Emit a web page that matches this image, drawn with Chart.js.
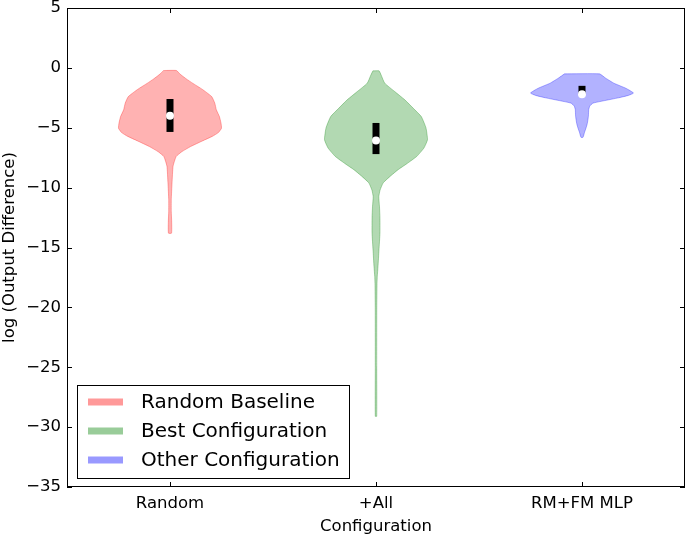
<!DOCTYPE html>
<html>
<head>
<meta charset="utf-8">
<script src="https://cdn.jsdelivr.net/npm/chart.js@4"></script>
<style>
  html, body { margin: 0; padding: 0; background: #fff; }
  #wrap { width: 689px; height: 537px; }
</style>
</head>
<body>
<div id="wrap"><canvas id="violinChart"></canvas></div>
<script>
// categories along the x axis
const categories = ['Random', '+All', 'RM+FM MLP'];
const legendLabels = ['Random Baseline', 'Best Configuration', 'Other Configuration'];
const yTicks = [5, 0, -5, -10, -15, -20, -25, -30, -35];

// violin outlines: y levels (log diff) and relative density (1 = widest)
const randomLevels = [-0.22, -0.5, -0.9, -1.28, -1.8, -2.4, -2.95, -3.5, -4.07, -4.6, -5.04, -5.4, -5.7, -6.1, -6.57, -7.0, -7.4, -8.2, -9.6, -11, -12, -12.9, -13.8];
const randomDensity = [0.125, 0.19, 0.31, 0.44, 0.63, 0.81, 0.87, 0.9, 0.96, 0.99, 1, 0.94, 0.83, 0.63, 0.4, 0.23, 0.12, 0.06, 0.04, 0.025, 0.025, 0.033, 0.03];

const allLevels = [-0.25, -0.6, -1.28, -2.0, -2.67, -3.4, -4.07, -5.0, -6.0, -6.7, -7.4, -8.0, -8.5, -9.0, -9.6, -10.2, -10.75, -11.6, -12.5, -13.8, -15.2, -16.6, -17.4, -18, -20, -25, -29.1];
const allDensity = [0.06, 0.1, 0.17, 0.37, 0.56, 0.73, 0.88, 0.97, 1, 0.93, 0.79, 0.6, 0.43, 0.29, 0.14, 0.08, 0.055, 0.068, 0.077, 0.077, 0.058, 0.039, 0.025, 0.02, 0.015, 0.014, 0.014];

const mlpLevels = [-0.5, -0.86, -1.28, -1.7, -2.1, -2.3, -2.5, -2.75, -2.95, -3.2, -3.5, -4.0, -4.34, -4.7, -5.04, -5.4, -5.8];
const mlpDensity = [0.34, 0.46, 0.62, 0.85, 1, 0.9, 0.71, 0.42, 0.21, 0.15, 0.13, 0.125, 0.115, 0.1, 0.077, 0.048, 0.02];

// quartiles and medians
const q1 = [-5.35, -7.2, -2.25];
const q3 = [-2.6, -4.6, -1.5];
const medians = [-4.0, -6.07, -2.2];

const fills = ['rgba(255,0,0,0.3)', 'rgba(0,128,0,0.3)', 'rgba(0,0,255,0.3)'];
const legendColors = ['rgba(255,0,0,0.4)', 'rgba(0,128,0,0.4)', 'rgba(0,0,255,0.4)'];
const halfWidth = 0.25;

function outline(pos, levels, density) {
    const left = levels.map((y, i) => ({ x: pos - density[i] * halfWidth, y: y }));
    const right = levels.map((y, i) => ({ x: pos + density[i] * halfWidth, y: y })).reverse();
    const pts = left.concat(right);
    pts.push(left[0]);
    return pts;
}

const violins = [
    outline(0, randomLevels, randomDensity),
    outline(1, allLevels, allDensity),
    outline(2, mlpLevels, mlpDensity)
];

const datasets = [];
violins.forEach((pts, i) => {
    datasets.push({
        data: pts,
        showLine: true,
        fill: 'shape',
        backgroundColor: fills[i],
        borderColor: fills[i],
        borderWidth: 1,
        pointRadius: 0,
        tension: 0.15,
        order: 3
    });
});
categories.forEach((c, i) => {
    datasets.push({
        data: [{ x: i, y: q1[i] }, { x: i, y: q3[i] }],
        showLine: true,
        borderColor: '#000',
        borderWidth: 7,
        borderCapStyle: 'butt',
        pointRadius: 0,
        order: 2
    });
});
datasets.push({
    data: medians.map((m, i) => ({ x: i, y: m })),
    showLine: false,
    pointRadius: 4,
    pointBackgroundColor: '#fff',
    pointBorderWidth: 0,
    order: 1
});

// frame with inward ticks, plus legend box
const framePlugin = {
    id: 'frame',
    afterDatasetsDraw(chart) {
        const { ctx, chartArea: a, scales } = chart;
        ctx.save();
        ctx.strokeStyle = '#000';
        ctx.lineWidth = 1;
        ctx.strokeRect(a.left + 0.5, a.top + 0.5, a.right - a.left - 1, a.bottom - a.top - 1);
        ctx.beginPath();
        yTicks.forEach(v => {
            const y = Math.round(scales.y.getPixelForValue(v)) + 0.5;
            ctx.moveTo(a.left, y); ctx.lineTo(a.left + 5, y);
            ctx.moveTo(a.right, y); ctx.lineTo(a.right - 5, y);
        });
        categories.forEach((c, i) => {
            const x = Math.round(scales.x.getPixelForValue(i)) + 0.5;
            ctx.moveTo(x, a.top); ctx.lineTo(x, a.top + 5);
            ctx.moveTo(x, a.bottom); ctx.lineTo(x, a.bottom - 5);
        });
        ctx.stroke();

        // legend
        const bx = a.left + 10, by = a.bottom - 102, bw = 272, bh = 93;
        ctx.fillStyle = '#fff';
        ctx.fillRect(bx, by, bw, bh);
        ctx.strokeRect(bx + 0.5, by + 0.5, bw, bh);
        ctx.font = '20px "DejaVu Sans"';
        ctx.textBaseline = 'middle';
        legendLabels.forEach((t, i) => {
            const ly = by + 17 + i * 29;
            ctx.strokeStyle = legendColors[i];
            ctx.lineWidth = 7;
            ctx.beginPath();
            ctx.moveTo(bx + 11, ly); ctx.lineTo(bx + 46, ly);
            ctx.stroke();
            ctx.fillStyle = '#000';
            ctx.fillText(t, bx + 64, ly + 1);
        });
        ctx.restore();
    }
};

Chart.defaults.font.family = '"DejaVu Sans", sans-serif';
Chart.defaults.color = '#000';

new Chart(document.getElementById('violinChart'), {
    type: 'scatter',
    data: { datasets: datasets },
    options: {
        responsive: true,
        maintainAspectRatio: false,
        animation: false,
        events: [],
        layout: { padding: { top: 8, right: 2, left: 0, bottom: 0 } },
        plugins: {
            legend: { display: false },
            tooltip: { enabled: false }
        },
        scales: {
            x: {
                type: 'linear',
                min: -0.5,
                max: 2.5,
                afterBuildTicks(scale) {
                    scale.ticks = categories.map((c, i) => ({ value: i }));
                },
                afterFit(scale) {
                    scale.height = 50;
                    scale.paddingLeft = 0;
                    scale.paddingRight = 0;
                },
                grid: { display: false, drawTicks: false },
                border: { display: false },
                ticks: {
                    font: { size: 16.5 },
                    padding: 7,
                    maxRotation: 0,
                    callback: v => categories[v]
                },
                title: {
                    display: true,
                    text: 'Configuration',
                    font: { size: 16.5 },
                    padding: { top: 6, bottom: 0 }
                }
            },
            y: {
                min: -35,
                max: 5,
                afterBuildTicks(scale) {
                    scale.ticks = yTicks.map(v => ({ value: v }));
                },
                afterFit(scale) {
                    scale.width = 67;
                    scale.paddingTop = 0;
                    scale.paddingBottom = 0;
                },
                grid: { display: false, drawTicks: false },
                border: { display: false },
                ticks: {
                    font: { size: 16.5 },
                    padding: 6,
                    callback: v => (v < 0 ? '\u2212' + Math.abs(v) : String(v))
                },
                title: {
                    display: true,
                    text: 'log (Output Difference)',
                    font: { size: 16.5 },
                    padding: { top: 0, bottom: 0 }
                }
            }
        }
    },
    plugins: [framePlugin]
});
</script>
</body>
</html>
